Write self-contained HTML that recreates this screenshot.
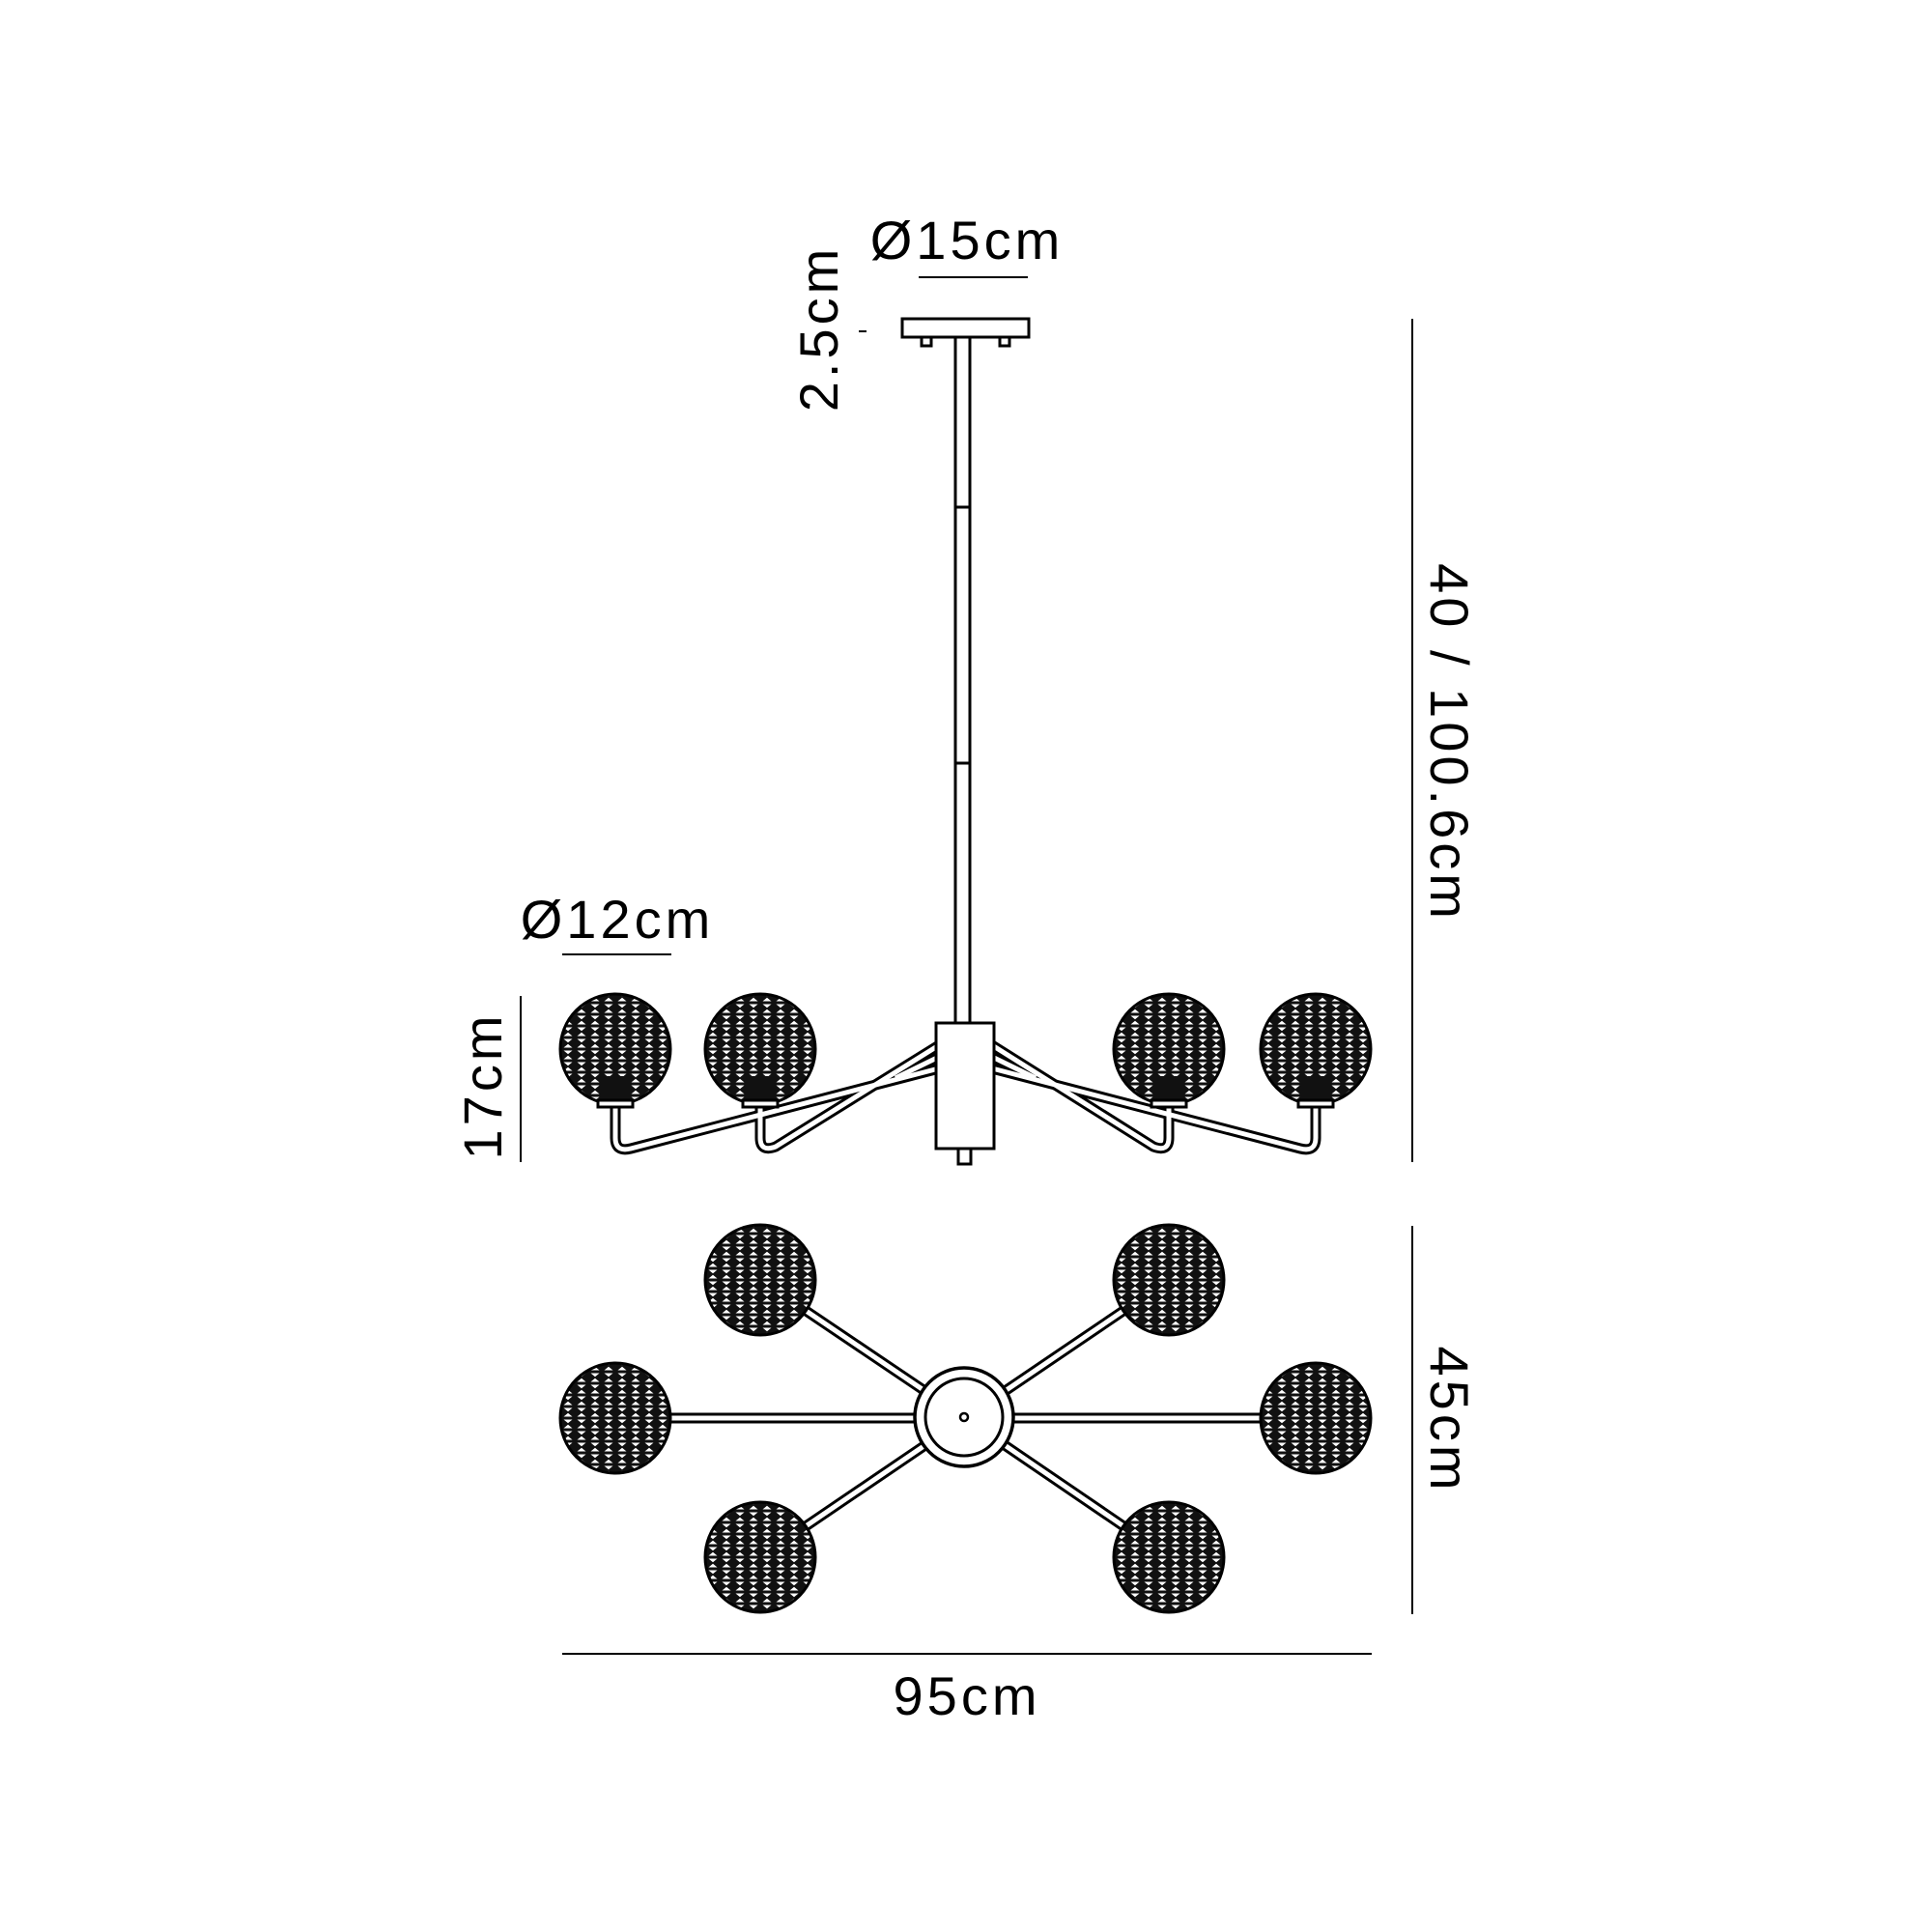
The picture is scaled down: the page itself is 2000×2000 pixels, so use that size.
<!DOCTYPE html>
<html><head><meta charset="utf-8"><style>html,body{margin:0;padding:0;background:#fff}svg{display:block}</style></head>
<body>
<svg width="2000" height="2000" viewBox="0 0 2000 2000" xmlns="http://www.w3.org/2000/svg" font-family="Liberation Sans, DejaVu Sans, sans-serif">
<defs>
<pattern id="p" width="14" height="12" patternUnits="userSpaceOnUse">
<rect width="14" height="12" fill="#111"/>
<polygon points="2.5,1.5 11.5,1.5 7,5.2" fill="#fff"/>
<polygon points="2.5,10.5 11.5,10.5 7,6.8" fill="#fff"/>
</pattern>
<g id="globe">
<circle r="57" fill="url(#p)" stroke="#000" stroke-width="3"/>
</g>
<g id="globeS">
<circle r="57" fill="url(#p)" stroke="#000" stroke-width="3"/>
<rect x="-14" y="28" width="28" height="28" fill="#111"/>
</g>
</defs>
<g transform="translate(-3,-4)">
<g fill="none" stroke="#000" stroke-width="3">
<rect x="937" y="334" width="131" height="19" fill="#fff"/>
<rect x="957" y="353" width="10" height="9"/>
<rect x="1038" y="353" width="10" height="9"/>
<line x1="992" y1="353" x2="992" y2="1063"/>
<line x1="1007" y1="353" x2="1007" y2="1063"/>
<line x1="992" y1="529" x2="1007" y2="529"/>
<line x1="992" y1="794" x2="1007" y2="794"/>
</g>
<g fill="none" stroke-linejoin="round" stroke-linecap="butt">
<g stroke="#000" stroke-width="11">
<path d="M640,1150 L640,1182 Q640,1197 656,1193 L975,1110"/>
<path d="M790,1150 L790,1182 Q790,1197 806,1191 L975,1086"/>
<path d="M1365,1150 L1365,1182 Q1365,1197 1349,1193 L1030,1110"/>
<path d="M1213,1150 L1213,1182 Q1213,1197 1197,1191 L1030,1086"/>
<path d="M975,1098 L930,1120"/><path d="M1030,1098 L1075,1120"/>
</g>
<g stroke="#fff" stroke-width="5">
<path d="M640,1150 L640,1182 Q640,1197 656,1193 L975,1110"/>
<path d="M790,1150 L790,1182 Q790,1197 806,1191 L975,1086"/>
<path d="M1365,1150 L1365,1182 Q1365,1197 1349,1193 L1030,1110"/>
<path d="M1213,1150 L1213,1182 Q1213,1197 1197,1191 L1030,1086"/>
<path d="M975,1098 L930,1120"/><path d="M1030,1098 L1075,1120"/>
</g>
</g>
<rect x="972" y="1063" width="60" height="130" fill="#fff" stroke="#000" stroke-width="3"/>
<rect x="995" y="1193" width="13" height="16" fill="#fff" stroke="#000" stroke-width="3"/>
<use href="#globeS" x="640" y="1090"/>
<use href="#globeS" x="790" y="1090"/>
<use href="#globeS" x="1213" y="1090"/>
<use href="#globeS" x="1365" y="1090"/>
<g fill="#fff" stroke="#000" stroke-width="3">
<rect x="622" y="1143" width="36" height="7"/>
<rect x="772" y="1143" width="36" height="7"/>
<rect x="1195" y="1143" width="36" height="7"/>
<rect x="1347" y="1143" width="36" height="7"/>
</g>
<g stroke-linecap="butt">
<g stroke="#000" stroke-width="11">
<line x1="1002" y1="1472" x2="790" y2="1329"/>
<line x1="1002" y1="1472" x2="1213" y2="1329"/>
<line x1="1002" y1="1472" x2="640" y2="1472"/>
<line x1="1002" y1="1472" x2="1365" y2="1472"/>
<line x1="1002" y1="1472" x2="790" y2="1616"/>
<line x1="1002" y1="1472" x2="1213" y2="1616"/>
</g>
<g stroke="#fff" stroke-width="5">
<line x1="1002" y1="1472" x2="790" y2="1329"/>
<line x1="1002" y1="1472" x2="1213" y2="1329"/>
<line x1="1002" y1="1472" x2="640" y2="1472"/>
<line x1="1002" y1="1472" x2="1365" y2="1472"/>
<line x1="1002" y1="1472" x2="790" y2="1616"/>
<line x1="1002" y1="1472" x2="1213" y2="1616"/>
</g>
</g>
<circle cx="1001" cy="1471" r="51" fill="#fff" stroke="#000" stroke-width="3.5"/>
<circle cx="1001" cy="1471" r="40" fill="#fff" stroke="#000" stroke-width="3"/>
<circle cx="1001" cy="1471" r="4" fill="#fff" stroke="#000" stroke-width="2.5"/>
<use href="#globe" x="790" y="1329"/>
<use href="#globe" x="1213" y="1329"/>
<use href="#globe" x="640" y="1472"/>
<use href="#globe" x="1365" y="1472"/>
<use href="#globe" x="790" y="1616"/>
<use href="#globe" x="1213" y="1616"/>
<g stroke="#000" stroke-width="2">
<line x1="1465" y1="334" x2="1465" y2="1207"/>
<line x1="1465" y1="1273" x2="1465" y2="1675"/>
<line x1="585" y1="1716" x2="1423" y2="1716"/>
<line x1="954" y1="291" x2="1067" y2="291"/>
<line x1="585" y1="992" x2="698" y2="992"/>
<line x1="542" y1="1035" x2="542" y2="1207"/>
<line x1="892" y1="347" x2="900" y2="347"/>
</g>
<g font-size="56" fill="#000" text-anchor="middle" letter-spacing="4">
<text x="1004" y="272">Ø15cm</text>
<text x="642" y="975">Ø12cm</text>
<text x="1004" y="1779">95cm</text>
<text transform="translate(870,344) rotate(-90)">2.5cm</text>
<text transform="translate(522,1128) rotate(-90)">17cm</text>
<text transform="translate(1484,773) rotate(90)">40 / 100.6cm</text>
<text transform="translate(1484,1474) rotate(90)">45cm</text>
</g>
</g>
</svg>
</body></html>
